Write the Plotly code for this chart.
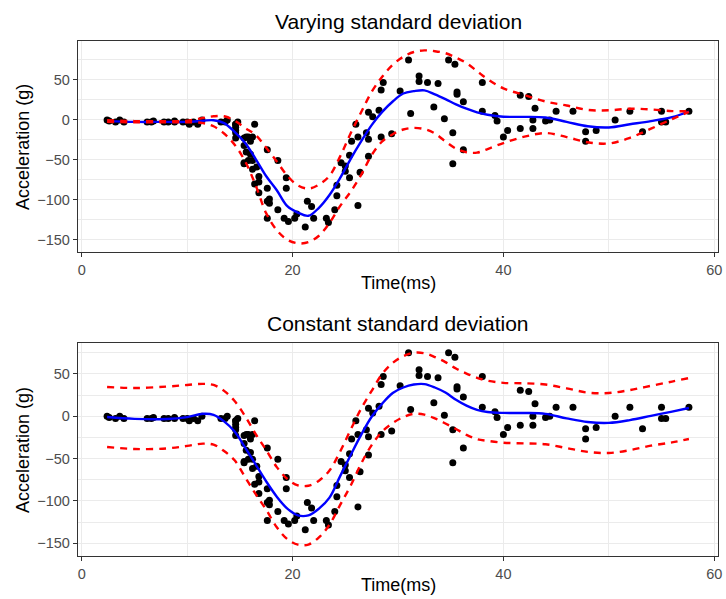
import plotly.graph_objects as go

# mcycle data
times = [2.4, 2.6, 3.2, 3.6, 4.0, 6.2, 6.6, 6.8, 7.8, 8.2, 8.8, 8.8, 9.6, 10.0, 10.2, 10.6, 11.0, 11.4,
         13.2, 13.6, 13.8, 14.6, 14.6, 14.6, 14.6, 14.6, 14.6, 14.8, 15.4, 15.4, 15.4, 15.4, 15.6, 15.6,
         15.8, 15.8, 16.0, 16.0, 16.2, 16.2, 16.2, 16.4, 16.4, 16.6, 16.8, 16.8, 16.8, 17.6, 17.6, 17.6,
         17.6, 17.8, 17.8, 18.6, 18.6, 19.2, 19.4, 19.4, 19.6, 20.2, 20.4, 21.2, 21.4, 21.8, 22.0, 23.2,
         23.4, 24.0, 24.2, 24.2, 24.6, 25.0, 25.0, 25.4, 25.4, 25.6, 26.0, 26.2, 26.2, 26.4, 27.0, 27.2,
         27.2, 27.2, 27.6, 28.2, 28.4, 28.4, 28.6, 29.4, 30.2, 31.0, 31.2, 32.0, 32.0, 32.8, 33.4, 33.8,
         34.4, 34.8, 35.2, 35.2, 35.4, 35.6, 35.6, 36.2, 36.2, 38.0, 38.0, 39.2, 39.4, 40.0, 40.4, 41.6,
         41.6, 42.4, 42.8, 42.8, 43.0, 44.0, 44.4, 45.0, 46.6, 47.8, 47.8, 48.8, 50.6, 52.0, 53.2, 55.0,
         55.0, 55.4, 57.6]
accel = [0.0, -1.3, -2.7, 0.0, -2.7, -2.7, -2.7, -1.3, -2.7, -2.7, -1.3, -2.7, -2.7, -2.7, -5.4, -2.7,
         -5.4, 0.0, -2.7, -2.7, 0.0, -13.3, -5.4, -5.4, -9.3, -16.0, -22.8, -2.7, -22.8, -32.1, -53.5,
         -54.9, -40.2, -21.5, -21.5, -50.8, -42.9, -26.8, -21.5, -50.8, -61.7, -5.4, -80.4, -59.0, -71.0,
         -91.1, -77.7, -37.5, -85.6, -123.1, -101.9, -99.1, -104.4, -112.5, -50.8, -123.1, -85.6, -72.3,
         -127.2, -123.1, -117.9, -134.0, -101.9, -108.4, -123.1, -123.1, -128.5, -112.5, -95.1, -81.8,
         -53.5, -64.4, -57.6, -72.3, -44.3, -26.8, -5.4, -107.1, -21.5, -65.6, -16.0, -45.6, -24.2, 9.5,
         4.0, 12.0, -21.5, 37.5, 46.9, -17.4, 36.2, 75.0, 8.1, 54.9, 48.2, 46.9, 16.0, 45.6, 1.3, 75.0,
         -16.0, -54.9, 69.6, 34.8, 32.1, -37.5, 22.8, 46.9, 10.7, 5.4, -1.3, -21.5, -13.3, 30.8, -10.7,
         29.4, 0.0, -10.7, 14.7, -1.3, 0.0, 10.7, 10.7, -26.8, -14.7, -13.3, 0.0, 10.7, -14.7, -2.7,
         10.7, -2.7, 10.7]

# fitted curves
grid_t = [2.4, 5, 8, 10, 11.5, 12.5, 13.5, 14.5, 15.5, 16.5, 17.5, 18.5, 19.5, 20.5, 21.5, 22.5,
          23.5, 24.5, 25.5, 26.5, 27.5, 28.5, 29.5, 30.5, 31.5, 32.5, 33.5, 34.5, 35.5, 36.5, 37.5,
          38.5, 40, 42, 44, 46, 48, 50, 52, 54, 56, 57.6]

var_mean = [-1.6, -2.5, -2.5, -2.5, -1, -0.4, -4, -15, -29, -49, -70.5, -88, -108, -116, -120, -110,
            -94, -73, -49, -27, -6.5, 10, 23, 33, 36, 37, 32, 26, 19.5, 14, 9.5, 6.5, 4, 3.8, 3, -2.5,
            -8, -9.5, -5.5, -1.5, 3.5, 10.5]
var_upper = [-0.5, -1.5, -1.5, -1, 2.5, 4.5, 4.5, -1, -10, -19, -35, -52, -70, -82, -86, -81, -70,
             -46, -17, 9.5, 35, 54, 69, 79, 85, 87, 86, 83.5, 78, 71, 61, 51, 39.5, 31, 23, 18, 12.5,
             12, 14, 13, 11, 10.9]
var_lower = [-2.5, -3, -3, -3, -4, -8, -17, -31, -52, -82, -117, -138, -150, -154.5, -153, -145,
             -129, -108, -90, -69, -44, -27, -18, -12, -10, -11.5, -17, -27, -36, -40.5, -41, -36.5,
             -29, -21, -16.5, -21.5, -28, -29.5, -22.5, -11, 1, 10]

con_mean = [-0.8, -3, -3.2, -1, 3, 1.8, -6, -18, -37, -57, -77, -95, -109, -117, -117, -109, -96,
            -71, -46, -22, -0.5, 15, 27.5, 34, 37.5, 38, 34, 28, 19.5, 12.5, 7.5, 5, 4, 3.9, 2.8,
            -2.5, -6.8, -7.8, -4.5, 0.5, 5.6, 9.8]
con_upper = [34.6, 33.4, 35, 37, 38.3, 37, 30, 18, 0, -21, -40, -60, -74, -81.5, -82, -76, -64, -42,
             -16, 9, 30, 50, 63, 71, 75, 74.5, 70, 64, 56.5, 50.5, 45.5, 42, 39.5, 39, 37.5, 33, 28,
             27.5, 31, 36, 41, 45.2]
con_lower = [-36.3, -38.6, -38, -35, -32.3, -33.5, -41, -52, -72, -92, -110.5, -131, -145, -151.6,
             -151.5, -143, -128, -105, -82, -56, -34, -18, -8, -1, 3, 2, -2.5, -8.5, -15, -22, -27,
             -29, -31.2, -32, -33, -37.5, -42, -43.3, -40, -34.7, -30.8, -26.8]

titles = ["Varying standard deviation", "Constant standard deviation"]
x_title = "Time(ms)"
y_title = "Acceleration (g)"

FONT = "Liberation Sans, Arial, Helvetica, sans-serif"
fig = go.Figure()

panels = [
    ("x", "y", var_mean, var_upper, var_lower),
    ("x2", "y2", con_mean, con_upper, con_lower),
]
for xa, ya, m, up, lo in panels:
    fig.add_trace(go.Scatter(x=times, y=accel, mode="markers", xaxis=xa, yaxis=ya,
                             marker=dict(color="black", size=7), showlegend=False))
    fig.add_trace(go.Scatter(x=grid_t, y=m, mode="lines", xaxis=xa, yaxis=ya,
                             line=dict(color="#0000FF", width=2.4, shape="spline"), showlegend=False))
    for band in (up, lo):
        fig.add_trace(go.Scatter(x=grid_t, y=band, mode="lines", xaxis=xa, yaxis=ya,
                                 line=dict(color="#FF0000", width=2.4, dash="7px,6px", shape="spline"),
                                 showlegend=False))

axis_common = dict(
    showline=True, mirror=True, linecolor="#333333", linewidth=1.3,
    ticks="outside", ticklen=4, tickcolor="#333333", tickwidth=1,
    showgrid=True, gridcolor="#EBEBEB", gridwidth=1.2,
    zeroline=False, ticklabeloverflow="allow",
    tickfont=dict(family=FONT, size=14.5, color="#4D4D4D"),
)
xax = dict(axis_common, range=[-0.36, 60.36], tickvals=[0, 20, 40, 60],
           minor=dict(tickvals=[10, 30, 50], showgrid=True, gridcolor="#EBEBEB", gridwidth=0.7, ticks=""))
yax_minor = dict(tickvals=[-125, -75, -25, 25, 75], showgrid=True, gridcolor="#EBEBEB", gridwidth=0.7, ticks="")

D_TOP = [0.5897, 1.0]
D_BOT = [0.0, 0.413]

fig.update_layout(
    width=726, height=599,
    margin=dict(l=78, r=4, t=41, b=43),
    paper_bgcolor="white", plot_bgcolor="white",
    font=dict(family=FONT, color="black"),
    xaxis=dict(xax, anchor="y"),
    yaxis=dict(axis_common, anchor="x", domain=D_TOP, range=[-165.75, 98.75],
               tickvals=[-150, -100, -50, 0, 50], minor=yax_minor),
    xaxis2=dict(xax, anchor="y2"),
    yaxis2=dict(axis_common, anchor="x2", domain=D_BOT, range=[-165.0, 86.2],
                tickvals=[-150, -100, -50, 0, 50], minor=yax_minor),
)

ann = []
ann.append(dict(text=titles[0], x=0.5, y=1.0388, xref="paper", yref="paper", showarrow=False,
                xanchor="center", yanchor="middle", font=dict(size=21, color="black", family=FONT)))
ann.append(dict(text=titles[1], x=0.5, y=0.4524, xref="paper", yref="paper", showarrow=False,
                xanchor="center", yanchor="middle", font=dict(size=21, color="black", family=FONT)))
for yc in (0.795, 0.2064):
    ann.append(dict(text=y_title, x=-0.087, y=yc, xref="paper", yref="paper", showarrow=False,
                    textangle=-90, xanchor="center", yanchor="middle",
                    font=dict(size=18, color="black", family=FONT)))
for yc in (0.530, -0.0563):
    ann.append(dict(text=x_title, x=0.5, y=yc, xref="paper", yref="paper", showarrow=False,
                    xanchor="center", yanchor="middle", font=dict(size=18, color="black", family=FONT)))
fig.update_layout(annotations=ann)

fig.write_html("out.html", config={"displayModeBar": False},
               post_script="document.body.style.margin='0';document.body.style.overflow='hidden';")
